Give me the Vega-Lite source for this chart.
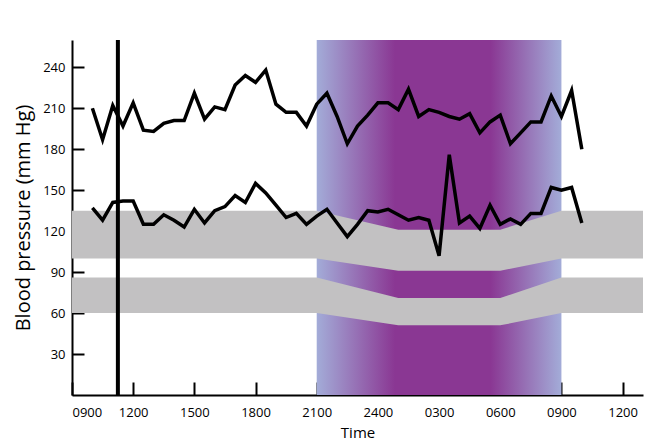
{
  "$schema": "https://vega.github.io/schema/vega-lite/v6.json",
  "width": 571,
  "height": 355,
  "autosize": {"type": "none"},
  "padding": {"left": 72, "top": 40, "right": 16, "bottom": 50},
  "background": "white",
  "config": {
    "view": {"stroke": null},
    "font": "Open Sans",
    "axis": {
      "domainColor": "black",
      "domainWidth": 2,
      "tickColor": "black",
      "tickWidth": 2,
      "grid": false,
      "labelColor": "black",
      "labelFontSize": 13,
      "titleColor": "black",
      "titleFontWeight": "normal"
    },
    "axisX": {
      "titleFontSize": 15,
      "titlePadding": 6,
      "tickSize": -13,
      "labelPadding": 24,
      "labelExpr": "datum.value == 15 ? '2400' : ((((9 + datum.value) % 24) < 10 ? '0' : '') + ((9 + datum.value) % 24) + '00')"
    },
    "axisY": {
      "titleFontSize": 20,
      "titlePadding": 9,
      "tickSize": -12,
      "labelPadding": 19
    }
  },
  "datasets": {
    "night": [{"start": 12, "end": 24}],
    "bands": [
      {"band": "upper", "t": 0, "lo": 100, "hi": 135},
      {"band": "upper", "t": 12, "lo": 100, "hi": 135},
      {"band": "upper", "t": 16, "lo": 91, "hi": 121},
      {"band": "upper", "t": 21, "lo": 91, "hi": 121},
      {"band": "upper", "t": 24, "lo": 100, "hi": 135},
      {"band": "upper", "t": 28, "lo": 100, "hi": 135},
      {"band": "lower", "t": 0, "lo": 60, "hi": 86},
      {"band": "lower", "t": 12, "lo": 60, "hi": 86},
      {"band": "lower", "t": 16, "lo": 51, "hi": 71},
      {"band": "lower", "t": 21, "lo": 51, "hi": 71},
      {"band": "lower", "t": 24, "lo": 60, "hi": 86},
      {"band": "lower", "t": 28, "lo": 60, "hi": 86}
    ],
    "bp": [
      {"s": "sys", "t": 1, "v": 210}, {"s": "sys", "t": 1.5, "v": 187}, {"s": "sys", "t": 2, "v": 212}, {"s": "sys", "t": 2.5, "v": 197},
      {"s": "sys", "t": 3, "v": 214}, {"s": "sys", "t": 3.5, "v": 194}, {"s": "sys", "t": 4, "v": 193}, {"s": "sys", "t": 4.5, "v": 199},
      {"s": "sys", "t": 5, "v": 201}, {"s": "sys", "t": 5.5, "v": 201}, {"s": "sys", "t": 6, "v": 221}, {"s": "sys", "t": 6.5, "v": 202},
      {"s": "sys", "t": 7, "v": 211}, {"s": "sys", "t": 7.5, "v": 209}, {"s": "sys", "t": 8, "v": 227}, {"s": "sys", "t": 8.5, "v": 234},
      {"s": "sys", "t": 9, "v": 229}, {"s": "sys", "t": 9.5, "v": 238}, {"s": "sys", "t": 10, "v": 213}, {"s": "sys", "t": 10.5, "v": 207},
      {"s": "sys", "t": 11, "v": 207}, {"s": "sys", "t": 11.5, "v": 197}, {"s": "sys", "t": 12, "v": 213}, {"s": "sys", "t": 12.5, "v": 221},
      {"s": "sys", "t": 13, "v": 204}, {"s": "sys", "t": 13.5, "v": 184}, {"s": "sys", "t": 14, "v": 197}, {"s": "sys", "t": 14.5, "v": 205},
      {"s": "sys", "t": 15, "v": 214}, {"s": "sys", "t": 15.5, "v": 214}, {"s": "sys", "t": 16, "v": 209}, {"s": "sys", "t": 16.5, "v": 224},
      {"s": "sys", "t": 17, "v": 204}, {"s": "sys", "t": 17.5, "v": 209}, {"s": "sys", "t": 18, "v": 207}, {"s": "sys", "t": 18.5, "v": 204},
      {"s": "sys", "t": 19, "v": 202}, {"s": "sys", "t": 19.5, "v": 206}, {"s": "sys", "t": 20, "v": 192}, {"s": "sys", "t": 20.5, "v": 200},
      {"s": "sys", "t": 21, "v": 205}, {"s": "sys", "t": 21.5, "v": 184}, {"s": "sys", "t": 22, "v": 192}, {"s": "sys", "t": 22.5, "v": 200},
      {"s": "sys", "t": 23, "v": 200}, {"s": "sys", "t": 23.5, "v": 219}, {"s": "sys", "t": 24, "v": 204}, {"s": "sys", "t": 24.5, "v": 223},
      {"s": "sys", "t": 25, "v": 180},
      {"s": "dia", "t": 1, "v": 137}, {"s": "dia", "t": 1.5, "v": 128}, {"s": "dia", "t": 2, "v": 141}, {"s": "dia", "t": 2.5, "v": 142},
      {"s": "dia", "t": 3, "v": 142}, {"s": "dia", "t": 3.5, "v": 125}, {"s": "dia", "t": 4, "v": 125}, {"s": "dia", "t": 4.5, "v": 132},
      {"s": "dia", "t": 5, "v": 128}, {"s": "dia", "t": 5.5, "v": 123}, {"s": "dia", "t": 6, "v": 136}, {"s": "dia", "t": 6.5, "v": 126},
      {"s": "dia", "t": 7, "v": 135}, {"s": "dia", "t": 7.5, "v": 138}, {"s": "dia", "t": 8, "v": 146}, {"s": "dia", "t": 8.5, "v": 141},
      {"s": "dia", "t": 9, "v": 155}, {"s": "dia", "t": 9.5, "v": 148}, {"s": "dia", "t": 10, "v": 139}, {"s": "dia", "t": 10.5, "v": 130},
      {"s": "dia", "t": 11, "v": 133}, {"s": "dia", "t": 11.5, "v": 125}, {"s": "dia", "t": 12, "v": 131}, {"s": "dia", "t": 12.5, "v": 136},
      {"s": "dia", "t": 13, "v": 126}, {"s": "dia", "t": 13.5, "v": 116}, {"s": "dia", "t": 14, "v": 125}, {"s": "dia", "t": 14.5, "v": 135},
      {"s": "dia", "t": 15, "v": 134}, {"s": "dia", "t": 15.5, "v": 136}, {"s": "dia", "t": 16, "v": 132}, {"s": "dia", "t": 16.5, "v": 128},
      {"s": "dia", "t": 17, "v": 130}, {"s": "dia", "t": 17.5, "v": 128}, {"s": "dia", "t": 18, "v": 102}, {"s": "dia", "t": 18.5, "v": 176},
      {"s": "dia", "t": 19, "v": 126}, {"s": "dia", "t": 19.5, "v": 131}, {"s": "dia", "t": 20, "v": 122}, {"s": "dia", "t": 20.5, "v": 139},
      {"s": "dia", "t": 21, "v": 125}, {"s": "dia", "t": 21.5, "v": 129}, {"s": "dia", "t": 22, "v": 125}, {"s": "dia", "t": 22.5, "v": 133},
      {"s": "dia", "t": 23, "v": 133}, {"s": "dia", "t": 23.5, "v": 152}, {"s": "dia", "t": 24, "v": 150}, {"s": "dia", "t": 24.5, "v": 152},
      {"s": "dia", "t": 25, "v": 126}
    ],
    "marker": [{"t": 2.25}]
  },
  "layer": [
    {
      "data": {"name": "night"},
      "mark": {
        "type": "rect",
        "fill": {
          "gradient": "linear", "x1": 0, "x2": 1, "y1": 0, "y2": 0,
          "stops": [
            {"offset": 0, "color": "#a3acd8"},
            {"offset": 0.32, "color": "#8a3793"},
            {"offset": 0.71, "color": "#8a3793"},
            {"offset": 1, "color": "#a3acd8"}
          ]
        }
      },
      "encoding": {
        "x": {"field": "start", "type": "quantitative", "scale": {"domain": [0, 28], "nice": false, "zero": false},
              "axis": {"title": "Time", "values": [0, 3, 6, 9, 12, 15, 18, 21, 24, 27]}},
        "x2": {"field": "end"}
      }
    },
    {
      "data": {"name": "bands"},
      "mark": {"type": "area", "color": "#c2c1c2", "opacity": 1},
      "encoding": {
        "x": {"field": "t", "type": "quantitative",
              "axis": {"title": "Time", "values": [0, 3, 6, 9, 12, 15, 18, 21, 24, 27]}},
        "y": {"field": "lo", "type": "quantitative", "scale": {"domain": [0, 260], "nice": false},
              "axis": {"title": "Blood pressure (mm Hg)", "values": [30, 60, 90, 120, 150, 180, 210, 240]}},
        "y2": {"field": "hi"},
        "detail": {"field": "band"}
      }
    },
    {
      "data": {"name": "bp"},
      "mark": {"type": "line", "color": "black", "strokeWidth": 3.5, "strokeJoin": "miter"},
      "encoding": {
        "x": {"field": "t", "type": "quantitative",
              "axis": {"title": "Time", "values": [0, 3, 6, 9, 12, 15, 18, 21, 24, 27]}},
        "y": {"field": "v", "type": "quantitative",
              "axis": {"title": "Blood pressure (mm Hg)", "values": [30, 60, 90, 120, 150, 180, 210, 240]}},
        "detail": {"field": "s"}
      }
    },
    {
      "data": {"name": "marker"},
      "mark": {"type": "rule", "color": "black", "strokeWidth": 4},
      "encoding": {
        "x": {"field": "t", "type": "quantitative",
              "axis": {"title": "Time", "values": [0, 3, 6, 9, 12, 15, 18, 21, 24, 27]}}
      }
    }
  ]
}
